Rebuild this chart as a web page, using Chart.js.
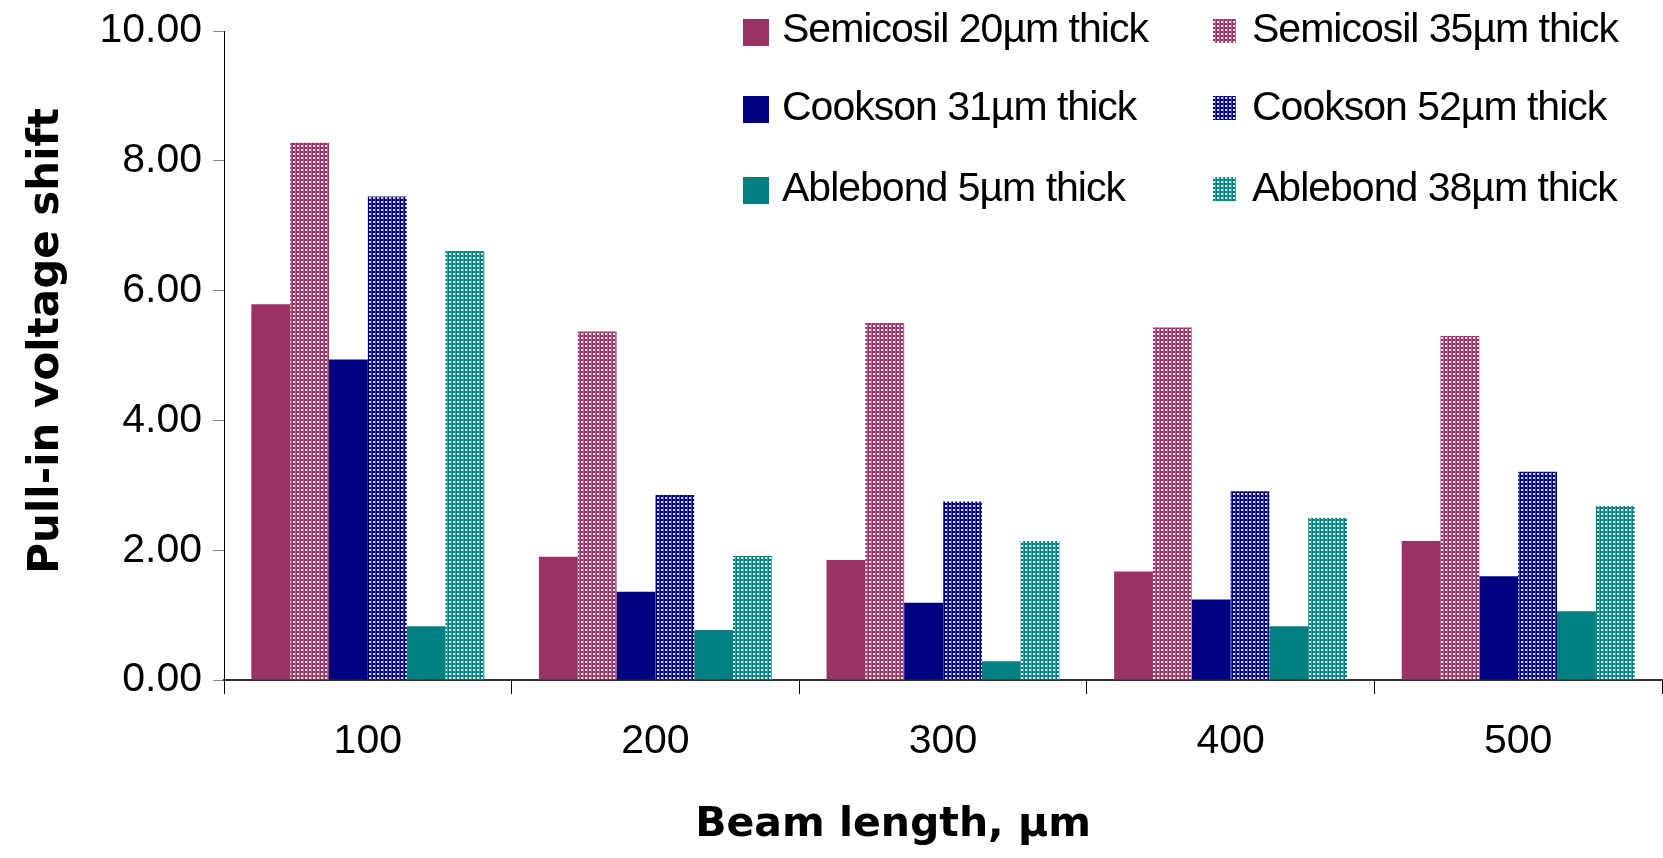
<!DOCTYPE html>
<html>
<head>
<meta charset="utf-8">
<title>Pull-in voltage shift</title>
<script src="https://cdn.jsdelivr.net/npm/chart.js@4.4.1/dist/chart.umd.min.js"></script>
<style>
  html, body { margin: 0; padding: 0; background: #fff; }
  #chart { display: block; }
</style>
</head>
<body>
<canvas id="chart" width="1663" height="858"></canvas>
<script>
// data
const beamLengths = ['100', '200', '300', '400', '500'];
const seriesNames = [
    'Semicosil 20µm thick', 'Semicosil 35µm thick',
    'Cookson 31µm thick', 'Cookson 52µm thick',
    'Ablebond 5µm thick', 'Ablebond 38µm thick'
];
const semicosil20 = [5.79, 1.90, 1.85, 1.67, 2.14];
const semicosil35 = [8.28, 5.37, 5.50, 5.43, 5.30];
const cookson31   = [4.94, 1.36, 1.19, 1.24, 1.60];
const cookson52   = [7.45, 2.85, 2.75, 2.91, 3.21];
const ablebond5   = [0.83, 0.77, 0.29, 0.83, 1.06];
const ablebond38  = [6.61, 1.91, 2.14, 2.50, 2.68];
const yTicks = [0, 2, 4, 6, 8, 10];

const seriesValues = [semicosil20, semicosil35, cookson31, cookson52, ablebond5, ablebond38];
const seriesColors = ['#993366', '#993366', '#000080', '#000080', '#008080', '#008080'];
const seriesDotted = [false, true, false, true, false, true];

// dotted fill like the Excel pattern bars
function dotPattern(color) {
    const c = document.createElement('canvas');
    c.width = 4;
    c.height = 4;
    const g = c.getContext('2d');
    g.fillStyle = color;
    g.fillRect(0, 0, 4, 4);
    g.fillStyle = 'rgba(255,255,255,0.85)';
    g.fillRect(1, 1, 2, 2);
    g.fillStyle = 'rgba(255,255,255,0.25)';
    g.fillRect(3, 0, 1, 4);
    return g.createPattern(c, 'repeat');
}

const datasets = seriesNames.map((name, i) => ({
    label: name,
    data: seriesValues[i],
    backgroundColor: seriesDotted[i] ? dotPattern(seriesColors[i]) : seriesColors[i],
    borderWidth: 0,
    categoryPercentage: 0.81,
    barPercentage: 1.0
}));

// legend in two columns inside the plot, top right
const legendLayout = {
    colBox: [743, 1213],
    colText: [782, 1252],
    boxW: [26, 23],
    boxH: [27, 24],
    boxTop: [19, 96, 177],
    baseline: [42, 120, 201]
};

const cornerLegend = {
    id: 'cornerLegend',
    afterDraw(chart) {
        const ctx = chart.ctx;
        const L = legendLayout;
        ctx.save();
        ctx.font = '41px "Liberation Sans", Arial, sans-serif';
        ctx.letterSpacing = '-1px';
        ctx.textBaseline = 'alphabetic';
        ctx.textAlign = 'left';
        chart.data.datasets.forEach((ds, i) => {
            const col = i % 2;
            const row = Math.floor(i / 2);
            ctx.fillStyle = ds.backgroundColor;
            ctx.fillRect(L.colBox[col], L.boxTop[row], L.boxW[col], L.boxH[col]);
            ctx.fillStyle = '#000';
            ctx.fillText(ds.label, L.colText[col], L.baseline[row]);
        });
        ctx.restore();
    }
};

const ctx = document.getElementById('chart').getContext('2d');
const chart = new Chart(ctx, {
    type: 'bar',
    data: {
        labels: beamLengths,
        datasets: datasets
    },
    options: {
        responsive: false,
        animation: false,
        layout: {
            padding: { top: 31, right: 1, left: 0, bottom: 0 }
        },
        plugins: {
            legend: { display: false },
            tooltip: { enabled: false }
        },
        scales: {
            x: {
                afterFit: (scale) => { scale.height = 178; },
                grid: {
                    offset: true,
                    drawOnChartArea: false,
                    drawTicks: true,
                    tickLength: 14,
                    color: '#000'
                },
                border: { display: true, color: '#333', width: 2 },
                ticks: {
                    color: '#000',
                    padding: 23,
                    font: { family: '"Liberation Sans", Arial, sans-serif', size: 41 }
                },
                title: {
                    display: true,
                    text: 'Beam length, µm       ',
                    color: '#000',
                    padding: { top: 0, bottom: 8 },
                    font: { family: '"DejaVu Sans", sans-serif', size: 41, weight: 'bold' }
                }
            },
            y: {
                min: 0,
                max: 10,
                afterFit: (scale) => { scale.width = 224; },
                afterBuildTicks: (scale) => {
                    scale.ticks = yTicks.map(v => ({ value: v }));
                },
                grid: {
                    drawOnChartArea: false,
                    drawTicks: true,
                    tickLength: 11,
                    color: '#888'
                },
                border: { display: true, color: '#000', width: 1 },
                ticks: {
                    color: '#000',
                    padding: 11,
                    font: { family: '"Liberation Sans", Arial, sans-serif', size: 41, lineHeight: 0.8 },
                    callback: (v) => Number(v).toFixed(2)
                },
                title: {
                    display: true,
                    text: '  Pull-in voltage shift',
                    color: '#000',
                    padding: { top: 22, bottom: 0 },
                    font: { family: '"DejaVu Sans", sans-serif', size: 42, weight: 'bold' }
                }
            }
        }
    },
    plugins: [cornerLegend]
});
</script>
</body>
</html>
